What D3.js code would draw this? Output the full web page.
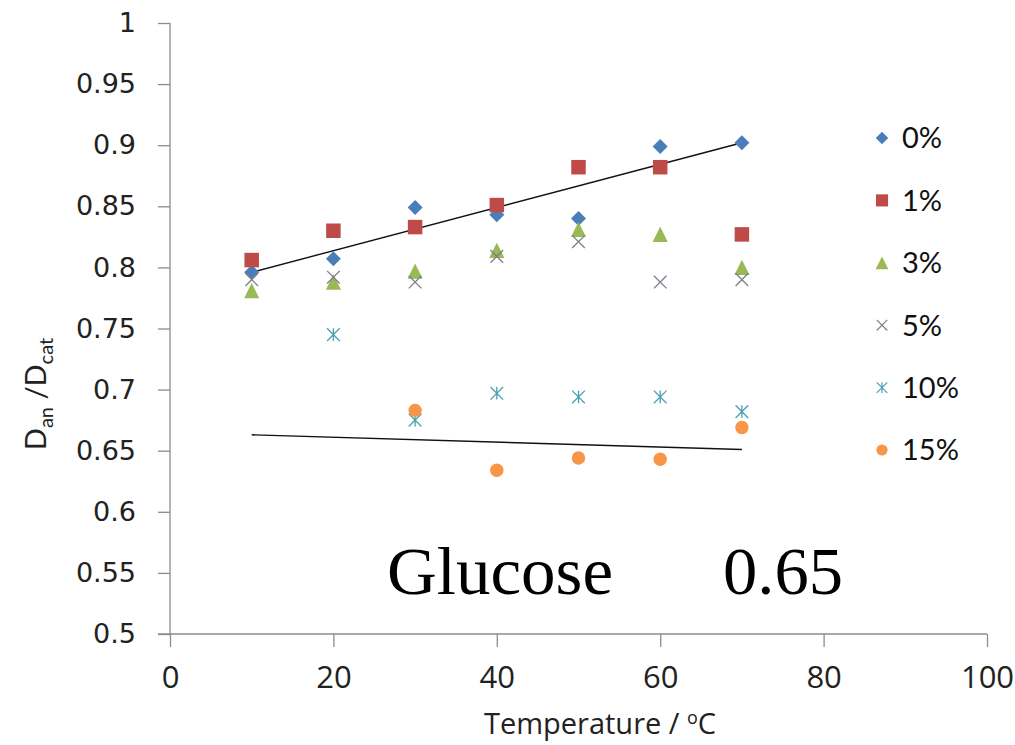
<!DOCTYPE html>
<html>
<head>
<meta charset="utf-8">
<script src="https://cdn.jsdelivr.net/npm/d3@7/dist/d3.min.js"></script>
<style>
  html, body { margin: 0; padding: 0; background: #fff; }
  svg { display: block; }
</style>
</head>
<body>
<svg id="chart" width="1015" height="745"></svg>
<script>
// ---------- data ----------
const temperatures = [10, 20, 30, 40, 50, 60, 70];
const series0  = [0.796, 0.807, 0.849, 0.843, 0.840, 0.899, 0.902];
const series1  = [0.806, 0.830, 0.833, 0.851, 0.882, 0.882, 0.827];
const series3  = [0.781, 0.788, 0.797, 0.814, 0.831, 0.827, 0.800];
const series5  = [0.790, 0.792, 0.788, 0.809, 0.821, 0.788, 0.790];
const series10 = [null, 0.745, 0.675, 0.697, 0.694, 0.694, 0.682];
const series15 = [null, null, 0.683, 0.634, 0.644, 0.643, 0.669];
const seriesNames = ["0%", "1%", "3%", "5%", "10%", "15%"];
const trendA = [[10, 0.796], [70, 0.902]];
const trendB = [[10, 0.663], [70, 0.651]];
const xTicks = [0, 20, 40, 60, 80, 100];
const yTicks = [0.5, 0.55, 0.6, 0.65, 0.7, 0.75, 0.8, 0.85, 0.9, 0.95, 1];
const annotation = ["Glucose", "0.65"];

// ---------- setup ----------
const svg = d3.select("#chart");
const x = d3.scaleLinear().domain([0, 100]).range([170, 987]);
const y = d3.scaleLinear().domain([0.5, 1]).range([634, 23]);
const axisColor = "#8c8c8c";

// custom symbols
const diamond = { draw(ctx, size) { const r = Math.sqrt(size) / 2; ctx.moveTo(0, -r); ctx.lineTo(r, 0); ctx.lineTo(0, r); ctx.lineTo(-r, 0); ctx.closePath(); } };
const square = { draw(ctx, size) { const r = Math.sqrt(size) / 2; ctx.rect(-r, -r, 2 * r, 2 * r); } };
const triangle = { draw(ctx, size) { const r = Math.sqrt(size) / 2; ctx.moveTo(0, -r); ctx.lineTo(r, r); ctx.lineTo(-r, r); ctx.closePath(); } };
const cross = { draw(ctx, size) { const r = Math.sqrt(size) / 2; ctx.moveTo(-r, -r); ctx.lineTo(r, r); ctx.moveTo(r, -r); ctx.lineTo(-r, r); } };
const star = { draw(ctx, size) { const r = Math.sqrt(size) / 2; ctx.moveTo(-r, -r); ctx.lineTo(r, r); ctx.moveTo(r, -r); ctx.lineTo(-r, r); ctx.moveTo(0, -r); ctx.lineTo(0, r); } };
const circle = { draw(ctx, size) { const r = Math.sqrt(size) / 2; ctx.moveTo(r, 0); ctx.arc(0, 0, r, 0, 2 * Math.PI); } };

const styles = [
  { values: series0,  type: diamond,  size: 225, fill: "#4a7ebb", stroke: "none" },
  { values: series1,  type: square,   size: 210, fill: "#be4b48", stroke: "none" },
  { values: series3,  type: triangle, size: 230, fill: "#98b954", stroke: "none" },
  { values: series5,  type: cross,    size: 160, fill: "none", stroke: "#7d7d8c" },
  { values: series10, type: star,     size: 160, fill: "none", stroke: "#4a9fb4" },
  { values: series15, type: circle,   size: 180, fill: "#f79646", stroke: "none" }
];

// ---------- axes ----------
const yAxis = d3.axisLeft(y).tickValues(yTicks).tickSize(12).tickFormat(d => d3.format("")(+d.toFixed(2)));
const gy = svg.append("g").attr("transform", `translate(${x(0)},0)`).call(yAxis);
gy.select(".domain").attr("stroke", axisColor).attr("stroke-width", 1.3).attr("d", `M0,${y(1)}V${y(0.5)}`);
gy.selectAll(".tick line").attr("stroke", axisColor).attr("stroke-width", 1.3);
gy.selectAll(".tick text").attr("x", -34).attr("fill", "#222")
  .style("font-family", "'DejaVu Sans', sans-serif").style("font-size", "27px");

const xAxis = d3.axisBottom(x).tickValues(xTicks).tickSize(13).tickFormat(d3.format("d"));
const gx = svg.append("g").attr("transform", `translate(0,${y(0.5)})`).call(xAxis);
gx.select(".domain").attr("stroke", axisColor).attr("stroke-width", 1.3).attr("d", `M${x(0) - 12},0H${x(100)}`);
gx.selectAll(".tick line").attr("stroke", axisColor).attr("stroke-width", 1.3);
gx.selectAll(".tick text").attr("y", 0).attr("dy", "54px").attr("fill", "#222")
  .style("font-family", "'Liberation Sans Narrow', 'Open Sans', sans-serif").style("font-size", "31px");

// ---------- trend lines ----------
const line = d3.line().x(d => x(d[0])).y(d => y(d[1]));
[trendA, trendB].forEach(t => {
  svg.append("path").attr("d", line(t)).attr("fill", "none").attr("stroke", "#111").attr("stroke-width", 1.4);
});

// ---------- markers ----------
styles.forEach(s => {
  const pts = temperatures.map((t, i) => [t, s.values[i]]).filter(d => d[1] != null);
  svg.append("g").selectAll("path").data(pts).join("path")
    .attr("transform", d => `translate(${x(d[0])},${y(d[1])})`)
    .attr("d", d3.symbol().type(s.type).size(s.size))
    .attr("fill", s.fill).attr("stroke", s.stroke).attr("stroke-width", 1.3);
});

// ---------- legend ----------
const legendY = d3.scalePoint().domain(seriesNames).range([138, 450]);
const lg = svg.append("g");
seriesNames.forEach((name, i) => {
  const s = styles[i];
  lg.append("path").attr("transform", `translate(882,${legendY(name)})`)
    .attr("d", d3.symbol().type(s.type).size(s.size * 0.7))
    .attr("fill", s.fill).attr("stroke", s.stroke).attr("stroke-width", 1.2);
  lg.append("text").attr("x", 902).attr("y", legendY(name)).attr("dy", "0.36em")
    .attr("fill", "#111")
    .style("font-family", "Lato, sans-serif").style("font-size", "29px").text(name);
});

// ---------- axis titles ----------
const xt = svg.append("text").attr("x", 600).attr("y", 734).attr("text-anchor", "middle").attr("fill", "#222")
  .style("font-family", "'Liberation Sans Narrow', 'Open Sans', sans-serif").style("font-size", "29px");
xt.append("tspan").text("Temperature / ");
xt.append("tspan").attr("dy", "-10").style("font-size", "18px").text("o");
xt.append("tspan").attr("dy", "10").text("C");

const yt = svg.append("text").attr("transform", "translate(46,394) rotate(-90)").attr("text-anchor", "middle").attr("fill", "#222")
  .style("font-family", "Lato, sans-serif").style("font-size", "29px");
yt.append("tspan").text("D");
yt.append("tspan").attr("dy", "7").style("font-size", "20px").text("an");
yt.append("tspan").attr("dy", "-7").text(" /D");
yt.append("tspan").attr("dy", "7").style("font-size", "20px").text("cat");

// ---------- annotation ----------
svg.append("text").attr("x", 387).attr("y", 594).attr("fill", "#000")
  .attr("textLength", 226).attr("lengthAdjust", "spacingAndGlyphs")
  .style("font-family", "'Liberation Serif', serif").style("font-size", "68px").text(annotation[0]);
svg.append("text").attr("x", 723).attr("y", 594).attr("fill", "#000")
  .attr("textLength", 120).attr("lengthAdjust", "spacingAndGlyphs")
  .style("font-family", "'Liberation Serif', serif").style("font-size", "68px").text(annotation[1]);
</script>
</body>
</html>
